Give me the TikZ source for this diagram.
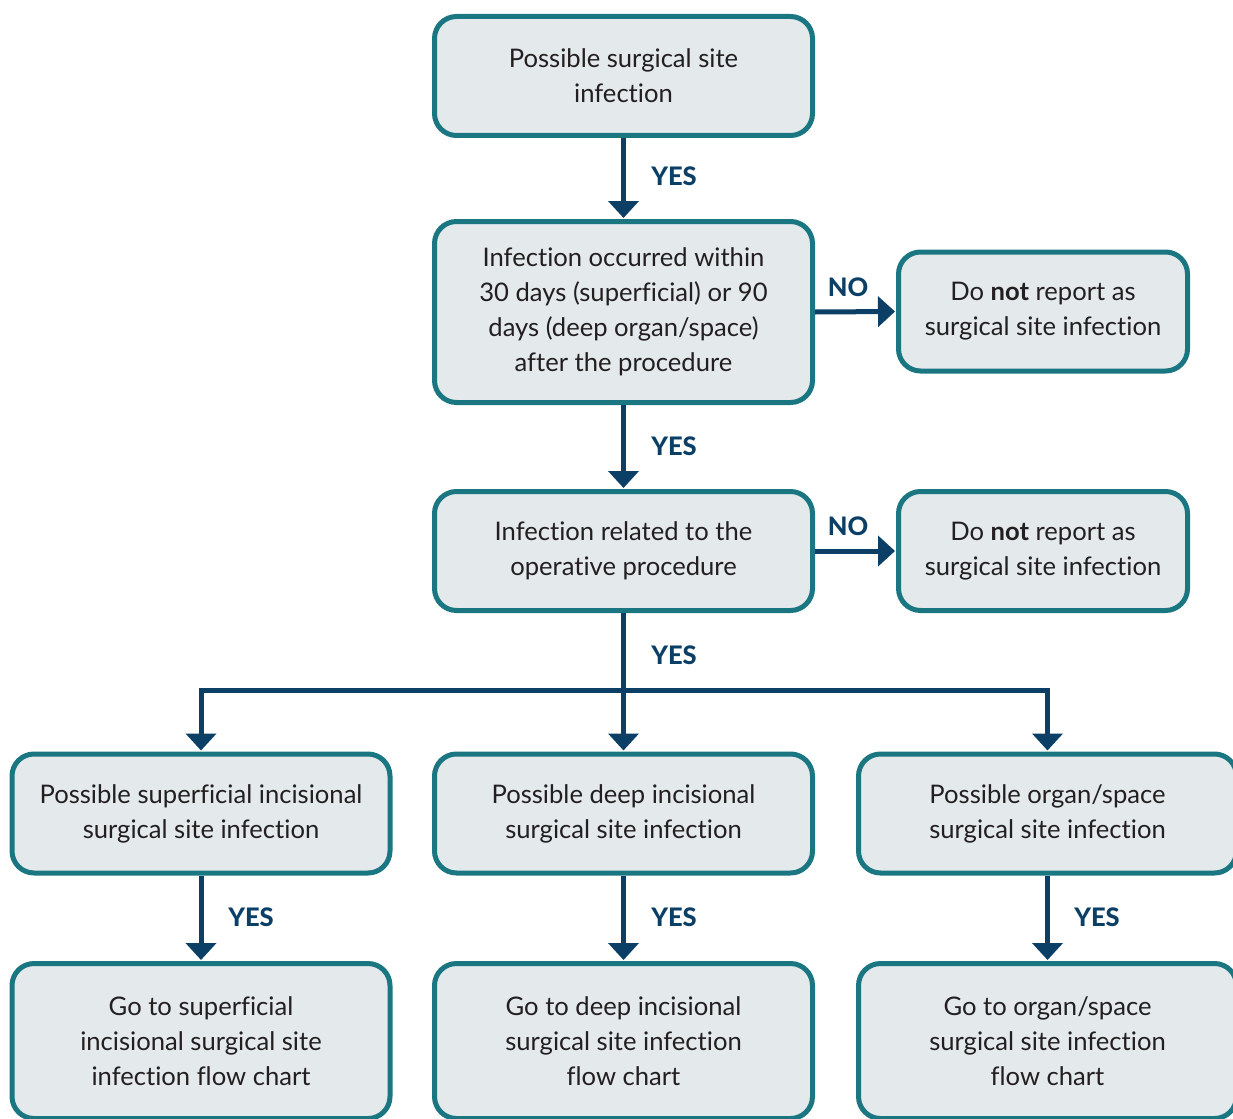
\documentclass[tikz,border=0pt]{standalone}
\usepackage{fontspec}
\setmainfont{Lato}[Ligatures=NoCommon]
\newfontfamily\tagfont{Lato Heavy}
\usetikzlibrary{arrows.meta}
\definecolor{boxfill}{HTML}{E4E9EC}
\definecolor{boxline}{HTML}{1A7782}
\definecolor{navy}{HTML}{0B3F66}
\definecolor{ink}{HTML}{231F20}
\tikzset{
  stepbox/.style={draw=boxline, fill=boxfill, line width=5pt, rounded corners=22pt,
    align=center, text=ink, font=\fontsize{25.6}{35}\selectfont, inner sep=0pt,
    minimum width=378pt, minimum height=119pt},
  sidebox/.style={stepbox, minimum width=289pt},
  flow/.style={draw=navy, line width=5pt, -{Triangle[width=30pt,length=17pt]}, shorten >=1pt},
  tag/.style={text=navy, font=\fontsize{25.5}{28}\tagfont\selectfont, inner sep=0pt}
}
\begin{document}
\begin{tikzpicture}[x=1pt,y=-1pt]
\useasboundingbox (0,0) rectangle (1233,1118);
% main column
\node[stepbox] (start) at (623.5,76) {Possible surgical site\\infection};
\node[stepbox, minimum height=181pt] (window) at (623.5,312)
  {Infection occurred within\\30 days (superficial) or 90\\days (deep organ/space)\\after the procedure};
\node[stepbox] (related) at (623.5,551) {Infection related to the\\operative procedure};
% side exits
\node[sidebox] (noA) at (1043,311.5) {Do \textbf{not} report as\\surgical site infection};
\node[sidebox] (noB) at (1043,551) {Do \textbf{not} report as\\surgical site infection};
% three categories
\node[stepbox] (sup) at (201,813.5) {Possible superficial incisional\\surgical site infection};
\node[stepbox] (deep) at (623.5,813.5) {Possible deep incisional\\surgical site infection};
\node[stepbox] (org) at (1047.5,813.5) {Possible organ/space\\surgical site infection};
% follow-up charts
\node[stepbox, minimum height=155pt] (supgo) at (201,1041) {Go to superficial\\incisional surgical site\\infection flow chart};
\node[stepbox, minimum height=155pt] (deepgo) at (623.5,1041) {Go to deep incisional\\surgical site infection\\flow chart};
\node[stepbox, minimum height=155pt] (orggo) at (1047.5,1041) {Go to organ/space\\surgical site infection\\flow chart};
% connectors
\coordinate (split) at (623.5,690);
\draw[flow] (start) -- (window);
\draw[flow] (window) -- (related);
\draw[flow] (window.east) -- (noA.west);
\draw[flow] (related.east) -- (noB.west);
\draw[flow] (related) -- (deep);
\draw[flow] (split) -| (sup.north);
\draw[flow] (split) -| (org.north);
\draw[flow] (sup) -- (supgo);
\draw[flow] (deep) -- (deepgo);
\draw[flow] (org) -- (orggo);
% branch labels
\node[tag] (y1) at (674,176) {YES};
\node[tag] (y2) at (674,446) {YES};
\node[tag] (y3) at (674,655) {YES};
\node[tag] (n1) at (848,287) {NO};
\node[tag] (n2) at (848,526) {NO};
\node[tag] (y4) at (251,917) {YES};
\node[tag] (y5) at (674,917) {YES};
\node[tag] (y6) at (1097,917) {YES};
\end{tikzpicture}
\end{document}
